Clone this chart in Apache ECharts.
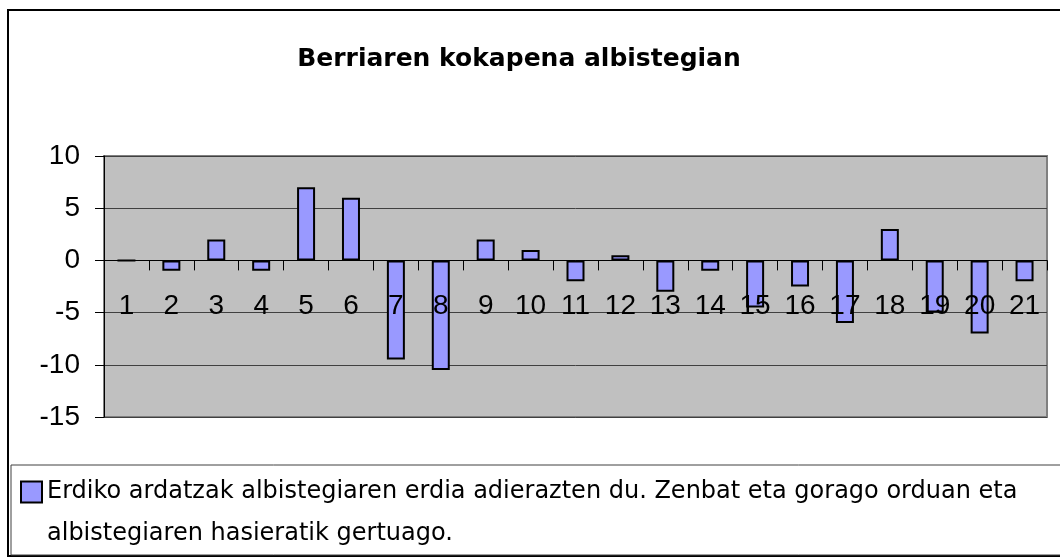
<!DOCTYPE html>
<html lang="eu">
<head>
	<meta charset="UTF-8">
	<title>Berriaren kokapena albistegian</title>
	<style>
		html, body { margin: 0; padding: 0; background: #fff; }
		#chart { width: 1060px; height: 557px; }
	</style>
</head>
<body>
	<div id="chart"></div>
	<script src="https://cdn.jsdelivr.net/npm/echarts@6/dist/echarts.min.js"></script>
	<script>
		// berriak (1..21) eta albistegiko kokapena
		var categories = ['1','2','3','4','5','6','7','8','9','10','11','12','13','14','15','16','17','18','19','20','21'];
		var values = [0, -1, 2, -1, 7, 6, -9.5, -10.5, 2, 1, -2, 0.5, -3, -1, -4.5, -2.5, -6, 3, -5, -7, -2];
		var legendLines = [
			'Erdiko ardatzak albistegiaren erdia adierazten du. Zenbat eta gorago orduan eta',
			'albistegiaren hasieratik gertuago.'
		];
		var yTicks = { min: -15, max: 10, step: 5 };
		var seriesName = legendLines.join(' ');

		var chart = echarts.init(document.getElementById('chart'));

		// grid geometry, used to put the category axis on the zero line
		var gridTop = 156, gridBottom = 140, chartH = 557;
		var plotH = chartH - gridTop - gridBottom;
		var zeroShift = -plotH * (0 - yTicks.min) / (yTicks.max - yTicks.min);

		var option = {
			backgroundColor: '#fff',
			animation: false,
			title: {
				text: 'Berriaren kokapena albistegian',
				left: 514,
				textAlign: 'center',
				top: 42,
				textStyle: {
					fontFamily: 'DejaVu Sans',
					fontWeight: 'bold',
					fontSize: 25,
					color: '#000'
				}
			},
			legend: {
				left: 20,
				top: 480,
				padding: 0,
				itemWidth: 21,
				itemHeight: 21,
				itemGap: 0,
				icon: 'rect',
				data: [seriesName],
				formatter: function () { return legendLines[0]; },
				textStyle: {
					fontFamily: 'DejaVu Sans',
					fontSize: 24,
					color: '#000'
				}
			},
			graphic: [
				{
					type: 'rect',
					shape: { x: 8, y: 10, width: 1100, height: 546 },
					style: { fill: 'none', stroke: '#000', lineWidth: 2 },
					silent: true
				},
				{
					type: 'rect',
					shape: { x: 11, y: 465, width: 1100, height: 90 },
					style: { fill: 'none', stroke: '#404040', lineWidth: 1 },
					silent: true
				},
				{
					type: 'text',
					left: 47,
					top: 522,
					silent: true,
					style: {
						text: legendLines[1],
						fontFamily: 'DejaVu Sans',
						fontSize: 24,
						fill: '#000'
					}
				}
			],
			grid: {
				left: 104,
				right: 13,
				top: gridTop,
				bottom: gridBottom,
				show: true,
				backgroundColor: '#c0c0c0',
				borderColor: '#808080',
				borderWidth: 2
			},
			xAxis: {
				type: 'category',
				data: categories,
				z: 5,
				offset: zeroShift,
				axisLine: { onZero: false, lineStyle: { color: '#000', width: 1 } },
				axisTick: { show: true, inside: false, length: 10, lineStyle: { color: '#000' } },
				axisLabel: {
					interval: 0,
					margin: 32,
					fontFamily: 'Liberation Sans',
					fontSize: 28,
					color: '#000'
				},
				splitLine: { show: false }
			},
			yAxis: {
				type: 'value',
				min: yTicks.min,
				max: yTicks.max,
				interval: yTicks.step,
				axisLine: { show: true, lineStyle: { color: '#000', width: 1 } },
				axisTick: { show: true, length: 9, lineStyle: { color: '#000' } },
				axisLabel: {
					margin: 24,
					fontFamily: 'Liberation Sans',
					fontSize: 28,
					color: '#000'
				},
				splitLine: { show: true, lineStyle: { color: '#404040', width: 1 } }
			},
			series: [
				{
					name: seriesName,
					type: 'bar',
					data: values,
					barWidth: 18,
					itemStyle: {
						color: '#9999ff',
						borderColor: '#000',
						borderWidth: 2
					}
				}
			]
		};

		chart.setOption(option);
	</script>
</body>
</html>
